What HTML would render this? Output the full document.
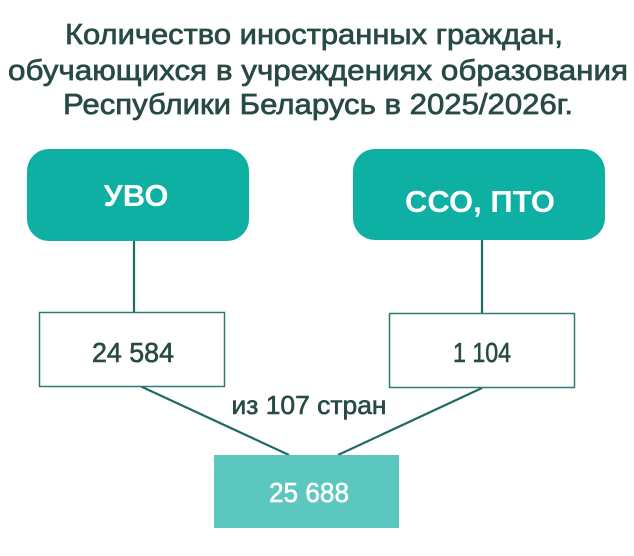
<!DOCTYPE html>
<html><head><meta charset="utf-8"><style>
html,body{margin:0;padding:0;background:#fff;width:634px;height:556px;overflow:hidden}
</style></head><body>
<svg width="634" height="556" viewBox="0 0 634 556" xmlns="http://www.w3.org/2000/svg">
<g font-family="Liberation Sans, sans-serif" fill="#284a45" stroke="#284a45" stroke-width="0.7" text-anchor="middle">
<text x="314" y="44" font-size="29" textLength="498" lengthAdjust="spacingAndGlyphs">Количество иностранных граждан,</text>
<text x="318" y="80" font-size="29" textLength="620" lengthAdjust="spacingAndGlyphs">обучающихся в учреждениях образования</text>
<text x="318" y="114" font-size="29" textLength="510" lengthAdjust="spacingAndGlyphs">Республики Беларусь в 2025/2026г.</text>
</g>
<g stroke="#1f6b63" stroke-width="2.2" fill="none">
<line x1="134" y1="241" x2="134" y2="313"/>
<line x1="482" y1="240" x2="482" y2="314"/>
<line x1="140" y1="386" x2="289" y2="455"/>
<line x1="482" y1="388" x2="338" y2="455"/>
</g>
<rect x="27" y="149" width="222" height="92" rx="22" fill="#0fb0a4"/>
<rect x="353" y="149" width="252" height="91" rx="22" fill="#0fb0a4"/>
<rect x="39.5" y="312.5" width="185" height="74" fill="#fff" stroke="#2f7b73" stroke-width="1.5"/>
<rect x="389.5" y="313.5" width="185" height="74" fill="#fff" stroke="#2f7b73" stroke-width="1.5"/>
<rect x="214" y="455" width="185" height="73" fill="#5bc7be"/>
<g font-family="Liberation Sans, sans-serif" font-weight="bold" text-anchor="middle">
<text x="136" y="206" font-size="31" fill="#fff">УВО</text>
<text x="480" y="212" font-size="31" fill="#fff">ССО, ПТО</text>
</g>
<g font-family="Liberation Sans, sans-serif" text-anchor="middle" stroke-width="0.6">
<text x="133" y="362" font-size="28" fill="#284a45" stroke="#284a45" textLength="82" lengthAdjust="spacingAndGlyphs">24 584</text>
<text x="482" y="362" font-size="28" fill="#284a45" stroke="#284a45" textLength="58" lengthAdjust="spacingAndGlyphs">1 104</text>
<text x="309" y="414" font-size="26" fill="#284a45" stroke="#284a45" textLength="155" lengthAdjust="spacingAndGlyphs">из 107 стран</text>
<text x="309" y="502" font-size="28" fill="#fff" stroke="#fff" textLength="80" lengthAdjust="spacingAndGlyphs">25 688</text>
</g>
</svg>
</body></html>
